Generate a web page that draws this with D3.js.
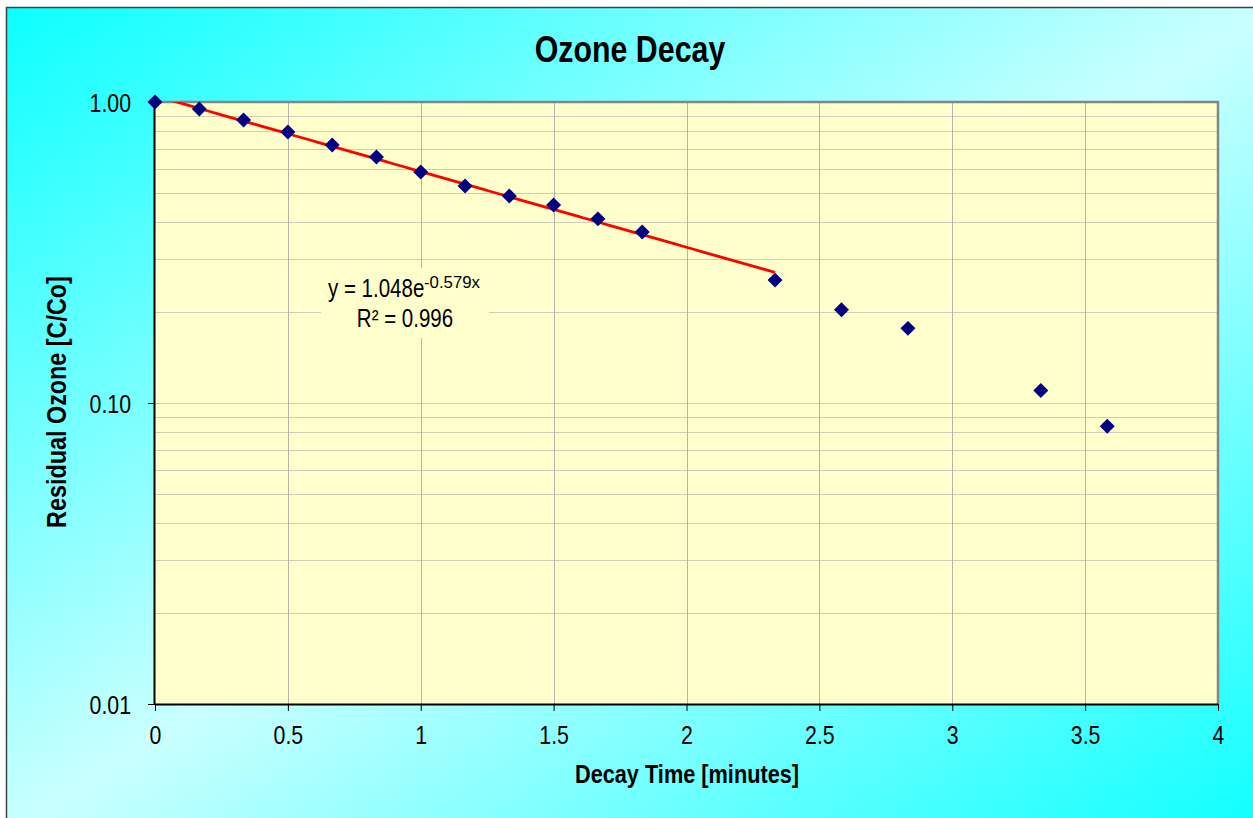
<!DOCTYPE html>
<html>
<head>
<meta charset="utf-8">
<script src="https://cdn.jsdelivr.net/npm/d3@7"></script>
<style>
  html, body { margin: 0; padding: 0; background: #ffffff; }
  svg { display: block; }
  text { font-family: "Liberation Sans", Arial, sans-serif; fill: #000; }
</style>
</head>
<body>
<svg id="chart" width="1253" height="818"></svg>
<script>
// Sampling times (minutes) and measured residual ozone fraction C/Co
const decayTime = [0, 0.1667, 0.3333, 0.5, 0.6667, 0.8333, 1.0, 1.1667, 1.3333, 1.5, 1.6667, 1.8333, 2.3333, 2.5833, 2.8333, 3.3333, 3.5833];
const residualOzone = [1.00, 0.948, 0.871, 0.795, 0.720, 0.657, 0.585, 0.526, 0.487, 0.455, 0.409, 0.370, 0.256, 0.204, 0.177, 0.110, 0.0837];

// Exponential trendline y = a * e^(b x), fitted over the first 13 samples
const fitCoefA = 1.048;
const fitCoefB = -0.579;
const fitRSquared = 0.996;
const fitRange = [0, 2.3333];

// Axis ticks
const xTicks = [0, 0.5, 1, 1.5, 2, 2.5, 3, 3.5, 4];
const yTicks = [0.01, 0.1, 1];
const yTickLabels = ["0.01", "0.10", "1.00"];

const W = 1253, H = 818;
const plot = { left: 155, top: 102, right: 1218, bottom: 704 };
const NARROW = 0.82; // horizontal squeeze giving a narrow sans face

const svg = d3.select("#chart");
const defs = svg.append("defs");

// Draws condensed text anchored at (x, y)
function narrowText(parent, x, y, str, size, opts = {}) {
  const g = parent.append("g").attr("transform", `translate(${x},${y})${opts.rotate ? ` rotate(${opts.rotate})` : ""}`);
  const t = g.append("text")
    .attr("transform", `scale(${NARROW},1)`)
    .attr("text-anchor", opts.anchor || "middle")
    .attr("font-size", size)
    .attr("font-weight", opts.bold ? "bold" : "normal");
  if (str !== null) t.text(str);
  return t;
}

// Diagonal cyan-to-pale background
const bg = defs.append("linearGradient").attr("id", "bgGrad")
  .attr("x1", 0).attr("y1", 0).attr("x2", 1).attr("y2", 1);
bg.append("stop").attr("offset", "0%").attr("stop-color", "#0cffff");
bg.append("stop").attr("offset", "50%").attr("stop-color", "#caffff");
bg.append("stop").attr("offset", "100%").attr("stop-color", "#0cffff");

defs.append("clipPath").attr("id", "plotClip")
  .append("rect")
  .attr("x", plot.left).attr("y", plot.top)
  .attr("width", plot.right - plot.left).attr("height", plot.bottom - plot.top);

svg.append("rect").attr("x", 0).attr("y", 0).attr("width", W).attr("height", H).attr("fill", "#ffffff");
svg.append("rect")
  .attr("x", 6.5).attr("y", 7.5).attr("width", W + 10).attr("height", H + 10)
  .attr("fill", "url(#bgGrad)").attr("stroke", "#3c4444").attr("stroke-width", 1.5);

const x = d3.scaleLinear().domain([0, 4]).range([plot.left, plot.right]);
const y = d3.scaleLog().domain([0.01, 1]).range([plot.bottom, plot.top]);

// Plot area fill
svg.append("rect")
  .attr("x", plot.left).attr("y", plot.top)
  .attr("width", plot.right - plot.left).attr("height", plot.bottom - plot.top)
  .attr("fill", "#ffffcc");

// Horizontal gridlines: every 1..9 step inside each decade
const yGrid = y.ticks().filter(v => v < 1);
svg.append("g").selectAll("line").data(yGrid).join("line")
  .attr("x1", plot.left).attr("x2", plot.right)
  .attr("y1", d => Math.round(y(d)) + 0.5).attr("y2", d => Math.round(y(d)) + 0.5)
  .attr("stroke", "#cfcdb8").attr("stroke-width", 1.2);

// Vertical gridlines
svg.append("g").selectAll("line").data(xTicks.filter(v => v > 0 && v < 4)).join("line")
  .attr("x1", d => Math.round(x(d)) + 0.5).attr("x2", d => Math.round(x(d)) + 0.5)
  .attr("y1", plot.top).attr("y2", plot.bottom)
  .attr("stroke", "#b4b4aa").attr("stroke-width", 1);

// Plot frame: grey on top/right, black axes on left/bottom
svg.append("path")
  .attr("d", `M${plot.left},${plot.top}H${plot.right}V${plot.bottom}`)
  .attr("fill", "none").attr("stroke", "#858585").attr("stroke-width", 2.5);

// Axes
const xAxis = svg.append("g").attr("transform", `translate(0,${plot.bottom})`)
  .call(d3.axisBottom(x).tickValues(xTicks).tickSize(7).tickPadding(15).tickFormat(d3.format("")));
const yAxis = svg.append("g").attr("transform", `translate(${plot.left},0)`)
  .call(d3.axisLeft(y).tickValues(yTicks).tickSize(7).tickPadding(16)
    .tickFormat((d, i) => yTickLabels[i]));
[xAxis, yAxis].forEach(g => {
  g.select(".domain").attr("stroke", "#000").attr("stroke-width", 2);
  g.selectAll(".tick line").attr("stroke", "#000").attr("stroke-width", 1);
  g.selectAll(".tick text").attr("font-size", 26)
    .attr("font-family", "'Liberation Sans', Arial, sans-serif")
    .attr("transform", `scale(${NARROW},1)`);
});
yAxis.selectAll(".tick text").attr("x", -24 / NARROW).attr("dy", "0.36em");
xAxis.select(".domain").attr("d", `M${plot.left},0.5H${plot.right}`);
yAxis.select(".domain").attr("d", `M-0.5,${plot.top}V${plot.bottom}`);

// Trendline
const fitLine = d3.range(fitRange[0], fitRange[1] + 1e-9, (fitRange[1] - fitRange[0]) / 100)
  .map(t => [t, fitCoefA * Math.exp(fitCoefB * t)]);
svg.append("path")
  .datum(fitLine)
  .attr("clip-path", "url(#plotClip)")
  .attr("d", d3.line().x(d => x(d[0])).y(d => y(d[1])))
  .attr("fill", "none").attr("stroke", "#ff0000").attr("stroke-width", 2.8);

// Trendline label
const labelG = svg.append("g");
labelG.append("rect")
  .attr("x", 321).attr("y", 268).attr("width", 168).attr("height", 70)
  .attr("fill", "#ffffcc");
narrowText(labelG, 328, 297, `y = ${fitCoefA.toFixed(3)}e`, 25, { anchor: "start" });
narrowText(labelG, 424, 288, `${fitCoefB.toFixed(3)}x`, 16, { anchor: "start" })
  .attr("textLength", 56 / NARROW).attr("lengthAdjust", "spacingAndGlyphs");
narrowText(labelG, 405, 327, `R² = ${fitRSquared.toFixed(3)}`, 25);

// Data markers (diamonds)
svg.append("g").selectAll("path").data(decayTime).join("path")
  .attr("transform", (d, i) => `translate(${x(d)},${y(residualOzone[i])}) rotate(45)`)
  .attr("d", d3.symbol().type(d3.symbolSquare).size(112))
  .attr("fill", "#000080");

// Titles
narrowText(svg, 630, 62, "Ozone Decay", 37, { bold: true });
narrowText(svg, 687, 783, "Decay Time [minutes]", 26.5, { bold: true });
narrowText(svg, 66, 402, "Residual Ozone [C/Co]", 28.5, { bold: true, rotate: -90 });
</script>
</body>
</html>
